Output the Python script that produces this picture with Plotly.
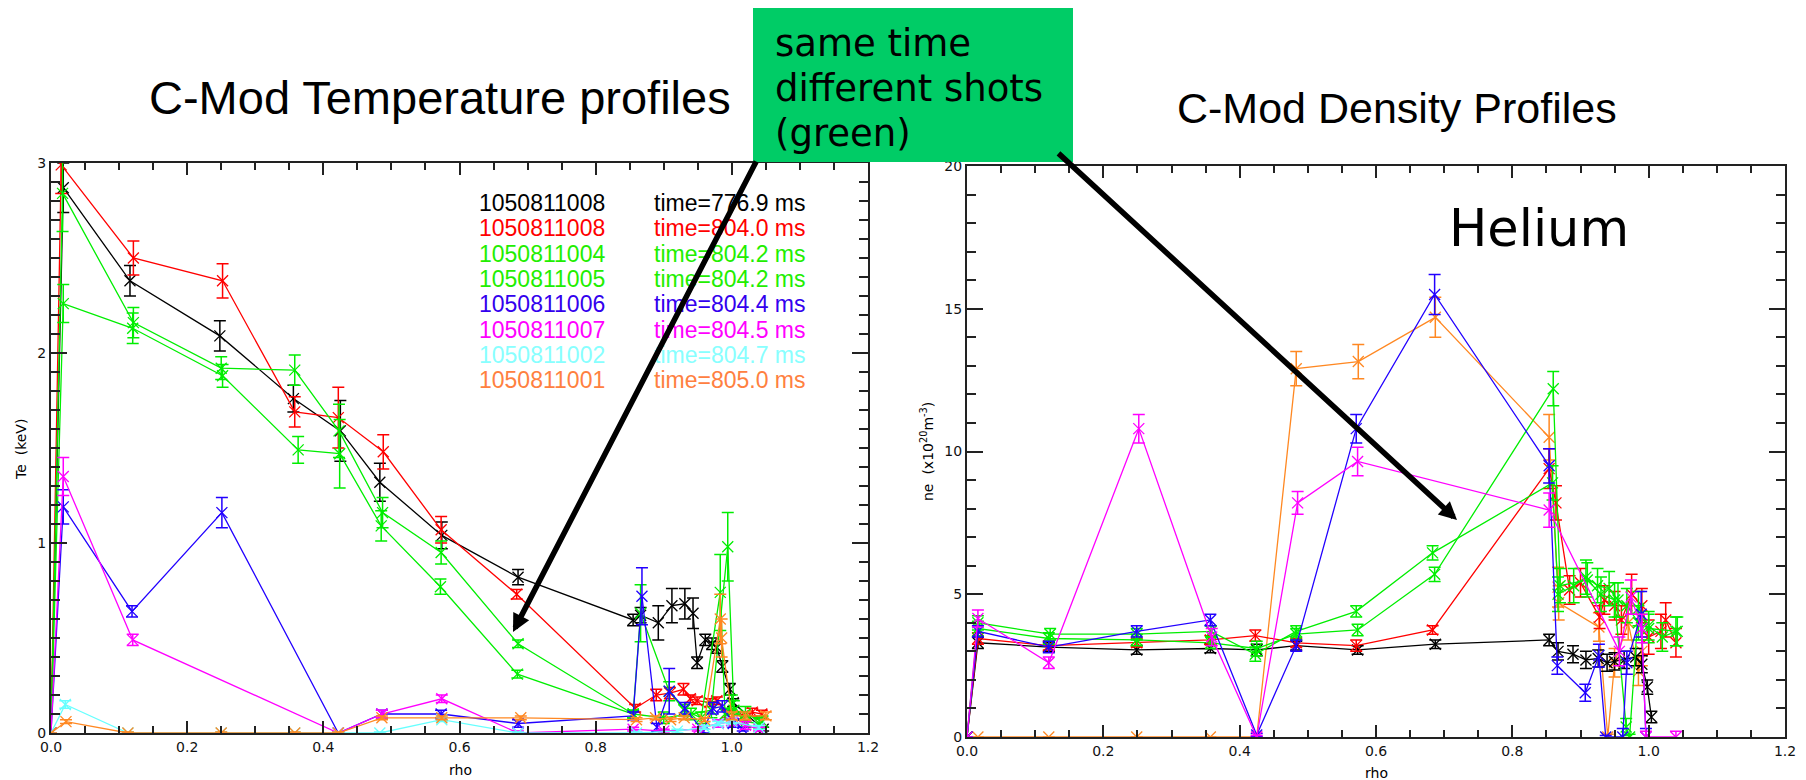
import plotly.graph_objects as go

W, H = 1806, 780

# ---------------- Temperature profiles (left) ----------------
te_rho_008a = [0.0, 0.018, 0.116, 0.248, 0.356, 0.425, 0.483, 0.574, 0.686, 0.855, 0.866, 0.892, 0.912, 0.931, 0.943, 0.949, 0.961, 0.971, 0.978, 0.986, 0.997, 1.002, 1.046]
te_val_008a = [0.0, 2.87, 2.38, 2.09, 1.76, 1.59, 1.32, 1.04, 0.82, 0.595, 0.62, 0.58, 0.67, 0.68, 0.63, 0.37, 0.49, 0.47, 0.45, 0.35, 0.23, 0.16, 0.02]
te_err_008a = [0.0, 0.13, 0.08, 0.08, 0.07, 0.16, 0.1, 0.07, 0.04, 0.03, 0.04, 0.09, 0.09, 0.08, 0.08, 0.03, 0.03, 0.03, 0.03, 0.03, 0.03, 0.02, 0.01]

te_rho_008b = [0.0, 0.015, 0.121, 0.252, 0.358, 0.422, 0.488, 0.573, 0.684, 0.858, 0.889, 0.909, 0.929, 0.939, 0.949, 0.968, 0.978, 0.993, 1.016, 1.03, 1.044]
te_val_008b = [0.0, 2.99, 2.5, 2.38, 1.69, 1.66, 1.48, 1.07, 0.73, 0.13, 0.2, 0.21, 0.23, 0.18, 0.17, 0.16, 0.17, 0.1, 0.09, 0.11, 0.1]
te_err_008b = [0.0, 0.15, 0.09, 0.09, 0.08, 0.16, 0.09, 0.07, 0.025, 0.02, 0.03, 0.03, 0.03, 0.02, 0.02, 0.02, 0.02, 0.02, 0.02, 0.02, 0.02]

te_rho_004 = [0.0, 0.017, 0.121, 0.25, 0.358, 0.423, 0.487, 0.573, 0.686, 0.855, 0.866, 0.908, 0.93, 0.955, 0.983, 0.99, 1.0, 1.02, 1.04]
te_val_004 = [0.0, 2.84, 2.16, 1.92, 1.91, 1.59, 1.16, 0.95, 0.47, 0.1, 0.63, 0.22, 0.12, 0.08, 0.74, 0.1, 0.15, 0.06, 0.05]
te_err_004 = [0.0, 0.2, 0.08, 0.06, 0.08, 0.14, 0.08, 0.06, 0.02, 0.02, 0.15, 0.05, 0.03, 0.03, 0.2, 0.03, 0.05, 0.03, 0.03]

te_rho_005 = [0.0, 0.018, 0.12, 0.252, 0.363, 0.424, 0.485, 0.572, 0.685, 0.855, 0.9, 0.94, 0.97, 0.994, 1.003, 1.02, 1.045]
te_val_005 = [0.0, 2.26, 2.13, 1.88, 1.49, 1.47, 1.09, 0.77, 0.31, 0.1, 0.08, 0.1, 0.12, 0.98, 0.12, 0.1, 0.06]
te_err_005 = [0.0, 0.1, 0.08, 0.06, 0.07, 0.18, 0.08, 0.04, 0.02, 0.02, 0.03, 0.03, 0.04, 0.18, 0.05, 0.04, 0.03]

te_rho_006 = [0.0, 0.018, 0.119, 0.251, 0.422, 0.486, 0.573, 0.686, 0.855, 0.868, 0.89, 0.908, 0.931, 0.958, 0.972, 0.986, 1.002, 1.016]
te_val_006 = [0.0, 1.19, 0.64, 1.16, 0.0, 0.1, 0.1, 0.05, 0.09, 0.72, 0.03, 0.22, 0.13, 0.01, 0.13, 0.14, 0.05, 0.02]
te_err_006 = [0.0, 0.09, 0.03, 0.08, 0.005, 0.02, 0.02, 0.02, 0.02, 0.15, 0.02, 0.12, 0.03, 0.01, 0.03, 0.03, 0.02, 0.01]

te_rho_007 = [0.0, 0.018, 0.12, 0.422, 0.486, 0.574, 0.686, 0.855, 0.9, 0.95, 0.98, 1.0, 1.02, 1.04]
te_val_007 = [0.0, 1.35, 0.49, 0.0, 0.1, 0.18, 0.0, 0.02, 0.01, 0.02, 0.05, 0.06, 0.04, 0.02]
te_err_007 = [0.0, 0.1, 0.03, 0.005, 0.02, 0.02, 0.01, 0.01, 0.01, 0.01, 0.02, 0.02, 0.02, 0.01]

te_rho_002 = [0.0, 0.021, 0.113, 0.25, 0.358, 0.422, 0.483, 0.574, 0.686, 0.86, 0.92, 0.96, 0.98, 1.0, 1.04]
te_val_002 = [0.0, 0.15, 0.0, 0.0, 0.0, 0.0, 0.0, 0.07, 0.0, 0.0, 0.01, 0.03, 0.05, 0.06, 0.03]
te_err_002 = [0.0, 0.02, 0.005, 0.005, 0.005, 0.005, 0.005, 0.01, 0.005, 0.005, 0.01, 0.01, 0.01, 0.01, 0.01]

te_rho_001 = [0.0, 0.022, 0.113, 0.25, 0.358, 0.422, 0.486, 0.574, 0.69, 0.86, 0.888, 0.91, 0.93, 0.96, 0.983, 0.985, 1.0, 1.02, 1.05]
te_val_001 = [0.0, 0.06, 0.0, 0.0, 0.0, 0.0, 0.08, 0.08, 0.08, 0.07, 0.08, 0.07, 0.08, 0.07, 0.6, 0.5, 0.09, 0.09, 0.09]
te_err_001 = [0.0, 0.01, 0.005, 0.005, 0.005, 0.005, 0.01, 0.01, 0.01, 0.01, 0.01, 0.01, 0.01, 0.01, 0.13, 0.1, 0.02, 0.02, 0.02]

# ---------------- Density profiles (right) ----------------
ne_rho_008a = [0.0, 0.016, 0.12, 0.249, 0.357, 0.425, 0.483, 0.573, 0.687, 0.854, 0.867, 0.889, 0.908, 0.926, 0.939, 0.95, 0.964, 0.981, 0.99, 0.998, 1.004]
ne_val_008a = [0.0, 3.3, 3.15, 3.05, 3.1, 3.05, 3.2, 3.05, 3.25, 3.4, 3.0, 2.9, 2.7, 2.75, 2.6, 2.65, 2.7, 2.8, 2.55, 1.75, 0.7]
ne_err_008a = [0.0, 0.2, 0.15, 0.15, 0.15, 0.2, 0.15, 0.15, 0.15, 0.2, 0.3, 0.3, 0.3, 0.3, 0.3, 0.3, 0.3, 0.3, 0.3, 0.25, 0.2]

ne_rho_008b = [0.0, 0.016, 0.12, 0.249, 0.357, 0.423, 0.483, 0.571, 0.683, 0.854, 0.864, 0.884, 0.9, 0.928, 0.935, 0.95, 0.96, 0.975, 0.99, 1.0, 1.018, 1.025, 1.04]
ne_val_008b = [0.0, 3.45, 3.2, 3.3, 3.4, 3.55, 3.3, 3.2, 3.75, 9.4, 8.2, 5.15, 5.4, 4.2, 4.8, 4.6, 4.1, 5.0, 4.6, 3.5, 3.7, 4.1, 3.3]
ne_err_008b = [0.0, 0.2, 0.15, 0.15, 0.15, 0.2, 0.15, 0.2, 0.15, 0.7, 0.6, 0.5, 0.5, 0.4, 0.5, 0.5, 0.5, 0.7, 0.6, 0.6, 0.6, 0.6, 0.5]

ne_rho_004 = [0.0, 0.016, 0.122, 0.249, 0.358, 0.423, 0.483, 0.571, 0.683, 0.859, 0.867, 0.89, 0.908, 0.925, 0.942, 0.955, 0.968, 0.985, 1.0, 1.042]
ne_val_004 = [0.0, 4.0, 3.6, 3.6, 3.7, 2.9, 3.7, 4.4, 6.45, 8.9, 5.0, 5.3, 5.6, 5.3, 5.2, 4.8, 4.6, 4.0, 3.8, 3.7]
ne_err_004 = [0.0, 0.25, 0.2, 0.2, 0.2, 0.25, 0.2, 0.2, 0.25, 0.6, 0.6, 0.6, 0.6, 0.6, 0.6, 0.6, 0.6, 0.6, 0.5, 0.5]

ne_rho_005 = [0.0, 0.016, 0.12, 0.249, 0.358, 0.425, 0.483, 0.573, 0.686, 0.86, 0.87, 0.91, 0.93, 0.95, 0.967, 0.972, 0.985, 1.0, 1.02, 1.04]
ne_val_005 = [0.0, 3.8, 3.45, 3.4, 3.3, 3.1, 3.6, 3.75, 5.7, 12.2, 5.3, 5.5, 5.0, 4.8, 0.35, 0.0, 4.5, 3.9, 3.5, 3.7]
ne_err_005 = [0.0, 0.25, 0.2, 0.2, 0.2, 0.25, 0.2, 0.2, 0.25, 0.6, 0.6, 0.6, 0.6, 0.6, 0.3, 0.1, 0.6, 0.5, 0.5, 0.5]

ne_rho_006 = [0.0, 0.016, 0.12, 0.249, 0.357, 0.425, 0.483, 0.571, 0.686, 0.854, 0.866, 0.907, 0.927, 0.937, 0.962, 0.968, 0.989, 0.996]
ne_val_006 = [0.0, 3.7, 3.15, 3.7, 4.1, 0.07, 3.2, 10.8, 15.5, 9.5, 2.5, 1.55, 2.85, 0.0, 0.0, 2.6, 4.3, 0.0]
ne_err_006 = [0.0, 0.2, 0.2, 0.2, 0.2, 0.05, 0.2, 0.5, 0.7, 0.6, 0.3, 0.3, 0.4, 0.05, 0.3, 0.4, 0.8, 0.3]

ne_rho_007 = [0.0, 0.016, 0.12, 0.252, 0.359, 0.425, 0.485, 0.573, 0.854, 0.957, 0.974, 0.99, 0.996, 1.04]
ne_val_007 = [0.0, 4.15, 2.6, 10.8, 3.5, 0.0, 8.2, 9.65, 7.95, 3.0, 4.9, 3.8, 0.0, 0.0]
ne_err_007 = [0.0, 0.3, 0.2, 0.5, 0.3, 0.05, 0.4, 0.5, 0.6, 0.5, 0.6, 0.5, 0.2, 0.2]

ne_rho_001 = [0.0, 0.016, 0.12, 0.249, 0.357, 0.425, 0.483, 0.574, 0.687, 0.854, 0.867, 0.868, 0.927, 0.94, 0.95, 0.97, 0.985, 0.99]
ne_val_001 = [0.0, 0.0, 0.0, 0.0, 0.0, 0.0, 12.9, 13.15, 14.7, 10.5, 5.25, 4.7, 3.85, 0.0, 2.6, 4.0, 2.3, 3.0]
ne_err_001 = [0.0, 0.0, 0.0, 0.0, 0.0, 0.0, 0.6, 0.6, 0.7, 0.8, 0.7, 0.6, 0.5, 0.1, 0.5, 0.6, 0.5, 0.5]

# ---------------- legend / labels ----------------
shot_labels = ["1050811008", "1050811008", "1050811004", "1050811005",
               "1050811006", "1050811007", "1050811002", "1050811001"]
time_labels = ["time=776.9 ms", "time=804.0 ms", "time=804.2 ms", "time=804.2 ms",
               "time=804.4 ms", "time=804.5 ms", "time=804.7 ms", "time=805.0 ms"]
series_colors = ["#000000", "#FF0000", "#00EE00", "#00EE00",
                 "#2200FF", "#FF00FF", "#66FFFF", "#FF8822"]
legend_colors = ["#000000", "#FF0000", "#22EE00", "#22EE00",
                 "#3300EE", "#FF00FF", "#88FFFF", "#FF8040"]

te_series = [
    (te_rho_008a, te_val_008a, te_err_008a, 0),
    (te_rho_008b, te_val_008b, te_err_008b, 1),
    (te_rho_004, te_val_004, te_err_004, 2),
    (te_rho_005, te_val_005, te_err_005, 3),
    (te_rho_006, te_val_006, te_err_006, 4),
    (te_rho_007, te_val_007, te_err_007, 5),
    (te_rho_002, te_val_002, te_err_002, 6),
    (te_rho_001, te_val_001, te_err_001, 7),
]
ne_series = [
    (ne_rho_001, ne_val_001, ne_err_001, 7),
    (ne_rho_008a, ne_val_008a, ne_err_008a, 0),
    (ne_rho_008b, ne_val_008b, ne_err_008b, 1),
    (ne_rho_004, ne_val_004, ne_err_004, 2),
    (ne_rho_005, ne_val_005, ne_err_005, 3),
    (ne_rho_006, ne_val_006, ne_err_006, 4),
    (ne_rho_007, ne_val_007, ne_err_007, 5),
]


def px(x):
    return x / W


def py(y):
    return 1 - y / H


fig = go.Figure()


def add_series(rho, val, err, ci, xa, ya):
    c = series_colors[ci]
    fig.add_trace(go.Scatter(
        x=rho, y=val, xaxis=xa, yaxis=ya, mode="lines+markers",
        line=dict(color=c, width=1.3),
        marker=dict(symbol="x-thin", size=11, color=c, line=dict(color=c, width=1.3)),
        error_y=dict(type="data", array=err, visible=True, color=c, thickness=1.5, width=6),
        showlegend=False, hoverinfo="skip"))


for rho, val, err, ci in te_series:
    add_series(rho, val, err, ci, "x", "y")
for rho, val, err, ci in ne_series:
    add_series(rho, val, err, ci, "x2", "y2")

axcol = "#222222"
tickfont = dict(family="DejaVu Sans", size=14, color="#111111")

common_x = dict(range=[0, 1.2], dtick=0.2, tickformat=".1f", showline=True, linecolor=axcol,
                linewidth=2, mirror="ticks", ticks="inside", ticklen=12, tickwidth=1.5,
                tickcolor=axcol, showgrid=False, zeroline=False, tickfont=tickfont,
                minor=dict(dtick=0.05, ticks="inside", ticklen=7, tickwidth=1.5, tickcolor=axcol),
                automargin=False)
common_y = dict(showline=True, linecolor=axcol, linewidth=2, mirror="ticks", ticks="inside",
                ticklen=16, tickwidth=1.5, tickcolor=axcol, showgrid=False, zeroline=False,
                tickfont=tickfont, automargin=False)

fig.update_layout(
    width=W, height=H, margin=dict(l=0, r=0, t=0, b=0),
    paper_bgcolor="white", plot_bgcolor="white",
    xaxis=dict(domain=[px(51), px(868)], anchor="y", **common_x),
    yaxis=dict(domain=[py(733), py(163)], anchor="x", range=[0, 3], dtick=1,
               minor=dict(dtick=0.1, ticks="inside", ticklen=9, tickwidth=1.5, tickcolor=axcol),
               **common_y),
    xaxis2=dict(domain=[px(967), px(1785)], anchor="y2", **common_x),
    yaxis2=dict(domain=[py(737), py(166)], anchor="x2", range=[0, 20], dtick=5,
                minor=dict(dtick=1, ticks="inside", ticklen=9, tickwidth=1.5, tickcolor=axcol),
                **common_y),
)

ann = []


def text(x, y, s, size, color="black", family="Liberation Sans", xanchor="left", angle=0):
    ann.append(dict(x=px(x), y=py(y), xref="paper", yref="paper", text=s, showarrow=False,
                    xanchor=xanchor, yanchor="middle", textangle=angle,
                    font=dict(family=family, size=size, color=color)))


# titles
text(147, 97, "C-Mod Temperature profiles", 47)
text(1175, 108, "C-Mod Density Profiles", 43)
text(1447, 228, "Helium", 51, family="DejaVu Sans")

# axis titles
text(460, 770, "rho", 14, family="DejaVu Sans", xanchor="center")
text(1376, 773, "rho", 14, family="DejaVu Sans", xanchor="center")
text(21, 450, "Te  (keV)", 14, family="DejaVu Sans", xanchor="center", angle=-90)
text(927, 452, "ne  (x10<sup>20</sup>m<sup>-3</sup>)", 14, family="DejaVu Sans", xanchor="center", angle=-90)

# legend text
for i, (s, t) in enumerate(zip(shot_labels, time_labels)):
    yy = 203 + 25.3 * i
    text(477, yy, s, 23, color=legend_colors[i])
    text(652, yy, t, 23, color=legend_colors[i])

# green box
fig.add_shape(type="rect", xref="paper", yref="paper", x0=px(753), x1=px(1073),
              y0=py(162), y1=py(8), fillcolor="#00CC66", line=dict(width=0), layer="above")
for j, s in enumerate(["same time", "different shots", "(green)"]):
    text(773, 43 + 45 * j, s, 37, family="DejaVu Sans")

# arrows
for tip, start in [((513, 632), (757, 160)), ((1457, 520), (1057, 152))]:
    ann.append(dict(x=px(tip[0]), y=py(tip[1]), xref="paper", yref="paper", text="",
                    showarrow=True, ax=start[0] - tip[0], ay=start[1] - tip[1],
                    axref="pixel", ayref="pixel", arrowhead=2, arrowsize=0.65,
                    arrowwidth=5.5, arrowcolor="black", standoff=0, startstandoff=0))

fig.update_layout(annotations=ann)
fig.write_html("out.html")
